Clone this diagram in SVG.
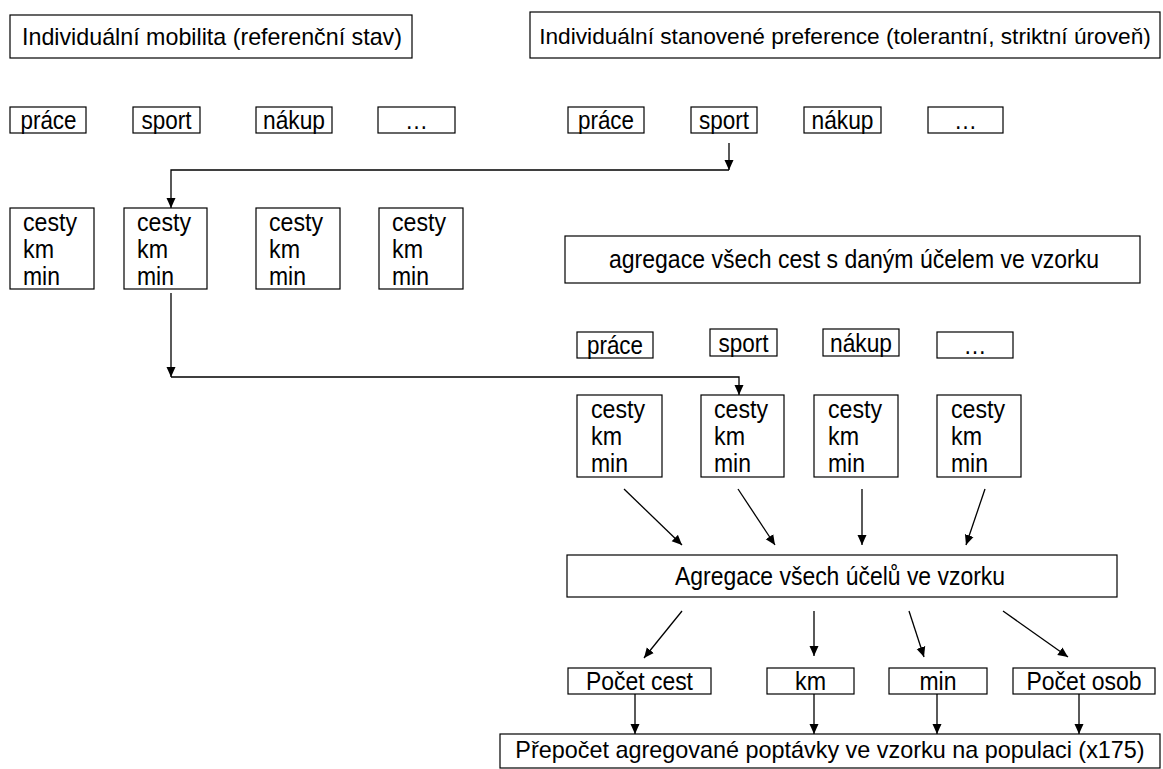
<svg xmlns="http://www.w3.org/2000/svg" width="1163" height="769" viewBox="0 0 1163 769">
<defs>
<style>
.b{fill:#fff;stroke:#000;stroke-width:1.2}
.t{font-family:"Liberation Sans",Arial,sans-serif;font-size:25px;fill:#000}
.h{font-size:24px}
.c{text-anchor:middle}
.ln{fill:none;stroke:#000;stroke-width:1.3}
</style>
<marker id="ah" markerWidth="10" markerHeight="10" refX="10" refY="5" orient="auto" markerUnits="userSpaceOnUse"><path d="M0,0.5 L10,5 L0,9.5 z" fill="#000"/></marker>
</defs>
<rect width="1163" height="769" fill="#fff"/>

<g id="title-left"><rect class="b" x="10" y="15" width="402" height="43"/><text class="t h" x="22" y="45" textLength="380" lengthAdjust="spacingAndGlyphs">Individuální mobilita (referenční stav)</text></g>
<g id="title-right"><rect class="b" x="530" y="12" width="630" height="46"/><text class="t c" x="845" y="44" style="font-size:22.7px">Individuální stanovené preference (tolerantní, striktní úroveň)</text></g>

<g id="l-prace"><rect class="b" x="10" y="107" width="76" height="26"/><text class="t c" x="48.5" y="129" textLength="56" lengthAdjust="spacingAndGlyphs">práce</text></g>
<g id="l-sport"><rect class="b" x="133" y="107" width="67" height="26"/><text class="t c" x="166.5" y="129" textLength="50" lengthAdjust="spacingAndGlyphs">sport</text></g>
<g id="l-nakup"><rect class="b" x="256" y="107" width="76" height="26"/><text class="t c" x="294" y="129" textLength="62" lengthAdjust="spacingAndGlyphs">nákup</text></g>
<g id="l-etc"><rect class="b" x="378" y="107" width="77" height="26"/><text class="t c" x="416.5" y="129" textLength="23" lengthAdjust="spacingAndGlyphs">…</text></g>

<g id="r-prace"><rect class="b" x="568" y="107" width="76" height="26"/><text class="t c" x="606" y="129" textLength="56" lengthAdjust="spacingAndGlyphs">práce</text></g>
<g id="r-sport"><rect class="b" x="691" y="107" width="66" height="26"/><text class="t c" x="724" y="129" textLength="50" lengthAdjust="spacingAndGlyphs">sport</text></g>
<g id="r-nakup"><rect class="b" x="804" y="107" width="77" height="26"/><text class="t c" x="842.5" y="129" textLength="62" lengthAdjust="spacingAndGlyphs">nákup</text></g>
<g id="r-etc"><rect class="b" x="928" y="107" width="75" height="26"/><text class="t c" x="965.5" y="129" textLength="23" lengthAdjust="spacingAndGlyphs">…</text></g>

<g id="lc1"><rect class="b" x="10" y="208" width="84" height="81"/><text class="t" x="23" y="231" textLength="54" lengthAdjust="spacingAndGlyphs">cesty</text><text class="t" x="23" y="258" textLength="31" lengthAdjust="spacingAndGlyphs">km</text><text class="t" x="23" y="285" textLength="37" lengthAdjust="spacingAndGlyphs">min</text></g>
<g id="lc2"><rect class="b" x="124" y="208" width="83" height="81"/><text class="t" x="137" y="231" textLength="54" lengthAdjust="spacingAndGlyphs">cesty</text><text class="t" x="137" y="258" textLength="31" lengthAdjust="spacingAndGlyphs">km</text><text class="t" x="137" y="285" textLength="37" lengthAdjust="spacingAndGlyphs">min</text></g>
<g id="lc3"><rect class="b" x="256" y="208" width="84" height="81"/><text class="t" x="269" y="231" textLength="54" lengthAdjust="spacingAndGlyphs">cesty</text><text class="t" x="269" y="258" textLength="31" lengthAdjust="spacingAndGlyphs">km</text><text class="t" x="269" y="285" textLength="37" lengthAdjust="spacingAndGlyphs">min</text></g>
<g id="lc4"><rect class="b" x="379" y="208" width="84" height="81"/><text class="t" x="392" y="231" textLength="54" lengthAdjust="spacingAndGlyphs">cesty</text><text class="t" x="392" y="258" textLength="31" lengthAdjust="spacingAndGlyphs">km</text><text class="t" x="392" y="285" textLength="37" lengthAdjust="spacingAndGlyphs">min</text></g>

<g id="agg-purpose"><rect class="b" x="565" y="236" width="575" height="47"/><text class="t c" x="854" y="268" textLength="490" lengthAdjust="spacingAndGlyphs">agregace všech cest s daným účelem ve vzorku</text></g>

<g id="m-prace"><rect class="b" x="577" y="332" width="76" height="26"/><text class="t c" x="615" y="354" textLength="56" lengthAdjust="spacingAndGlyphs">práce</text></g>
<g id="m-sport"><rect class="b" x="710" y="329" width="67" height="27"/><text class="t c" x="743.5" y="352" textLength="50" lengthAdjust="spacingAndGlyphs">sport</text></g>
<g id="m-nakup"><rect class="b" x="823" y="329" width="76" height="27"/><text class="t c" x="861" y="352" textLength="62" lengthAdjust="spacingAndGlyphs">nákup</text></g>
<g id="m-etc"><rect class="b" x="937" y="332" width="76" height="26"/><text class="t c" x="975" y="354" textLength="23" lengthAdjust="spacingAndGlyphs">…</text></g>

<g id="mc1"><rect class="b" x="577" y="395" width="85" height="82"/><text class="t" x="591" y="418" textLength="54" lengthAdjust="spacingAndGlyphs">cesty</text><text class="t" x="591" y="445" textLength="31" lengthAdjust="spacingAndGlyphs">km</text><text class="t" x="591" y="472" textLength="37" lengthAdjust="spacingAndGlyphs">min</text></g>
<g id="mc2"><rect class="b" x="701" y="395" width="83" height="82"/><text class="t" x="714" y="418" textLength="54" lengthAdjust="spacingAndGlyphs">cesty</text><text class="t" x="714" y="445" textLength="31" lengthAdjust="spacingAndGlyphs">km</text><text class="t" x="714" y="472" textLength="37" lengthAdjust="spacingAndGlyphs">min</text></g>
<g id="mc3"><rect class="b" x="814" y="395" width="84" height="82"/><text class="t" x="828" y="418" textLength="54" lengthAdjust="spacingAndGlyphs">cesty</text><text class="t" x="828" y="445" textLength="31" lengthAdjust="spacingAndGlyphs">km</text><text class="t" x="828" y="472" textLength="37" lengthAdjust="spacingAndGlyphs">min</text></g>
<g id="mc4"><rect class="b" x="937" y="395" width="84" height="82"/><text class="t" x="951" y="418" textLength="54" lengthAdjust="spacingAndGlyphs">cesty</text><text class="t" x="951" y="445" textLength="31" lengthAdjust="spacingAndGlyphs">km</text><text class="t" x="951" y="472" textLength="37" lengthAdjust="spacingAndGlyphs">min</text></g>

<g id="agg-all"><rect class="b" x="567" y="555" width="550" height="42"/><text class="t c" x="840" y="585" textLength="330" lengthAdjust="spacingAndGlyphs">Agregace všech účelů ve vzorku</text></g>

<g id="o-cest"><rect class="b" x="568" y="668" width="143" height="26"/><text class="t c" x="639.5" y="690" textLength="107" lengthAdjust="spacingAndGlyphs">Počet cest</text></g>
<g id="o-km"><rect class="b" x="767" y="668" width="87" height="26"/><text class="t c" x="810.5" y="690" textLength="31" lengthAdjust="spacingAndGlyphs">km</text></g>
<g id="o-min"><rect class="b" x="889" y="668" width="98" height="26"/><text class="t c" x="938" y="690" textLength="37" lengthAdjust="spacingAndGlyphs">min</text></g>
<g id="o-osob"><rect class="b" x="1013" y="668" width="142" height="26"/><text class="t c" x="1084" y="690" textLength="115" lengthAdjust="spacingAndGlyphs">Počet osob</text></g>

<g id="population"><rect class="b" x="500" y="734" width="660" height="34"/><text class="t c" x="830" y="758" style="font-size:23.4px">Přepočet agregované poptávky ve vzorku na populaci (x175)</text></g>

<g id="connectors">
<path class="ln" d="M729,143 L729,170" marker-end="url(#ah)"/>
<path class="ln" d="M729,170 L171,170 L171,208" marker-end="url(#ah)"/>
<path class="ln" d="M171,293 L171,377" marker-end="url(#ah)"/>
<path class="ln" d="M171,377 L739,377 L739,395" marker-end="url(#ah)"/>
<path class="ln" d="M624,489 L682,545" marker-end="url(#ah)"/>
<path class="ln" d="M738,489 L775,545" marker-end="url(#ah)"/>
<path class="ln" d="M862,489 L862,545" marker-end="url(#ah)"/>
<path class="ln" d="M985,489 L966,545" marker-end="url(#ah)"/>
<path class="ln" d="M682,611 L644,658" marker-end="url(#ah)"/>
<path class="ln" d="M814,611 L814,656" marker-end="url(#ah)"/>
<path class="ln" d="M909,611 L924,657" marker-end="url(#ah)"/>
<path class="ln" d="M1003,611 L1068,657" marker-end="url(#ah)"/>
<path class="ln" d="M635,694 L635,734" marker-end="url(#ah)"/>
<path class="ln" d="M814,694 L814,734" marker-end="url(#ah)"/>
<path class="ln" d="M937,694 L937,734" marker-end="url(#ah)"/>
<path class="ln" d="M1079,694 L1079,734" marker-end="url(#ah)"/>
</g>
</svg>
